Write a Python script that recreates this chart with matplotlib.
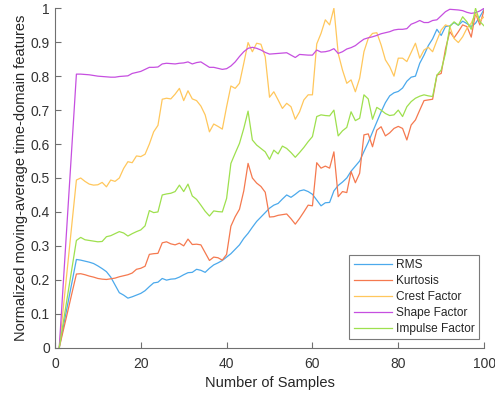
import matplotlib
matplotlib.use("Agg")
import matplotlib.pyplot as plt
import numpy as np

plt.rcParams['font.family'] = ['Liberation Sans', 'DejaVu Sans']

samples = np.arange(1, 101)

rms = [0.000, 0.065, 0.130, 0.195, 0.260, 0.258, 0.255, 0.252, 0.248, 0.241,
       0.233, 0.224, 0.208, 0.185, 0.162, 0.155, 0.146, 0.150, 0.155, 0.160,
       0.168, 0.180, 0.191, 0.193, 0.204, 0.199, 0.202, 0.203, 0.208, 0.215,
       0.221, 0.222, 0.231, 0.228, 0.222, 0.234, 0.244, 0.250, 0.257, 0.267,
       0.277, 0.290, 0.303, 0.322, 0.337, 0.355, 0.372, 0.385, 0.398, 0.411,
       0.420, 0.425, 0.438, 0.450, 0.443, 0.452, 0.462, 0.465, 0.460, 0.452,
       0.435, 0.418, 0.427, 0.428, 0.462, 0.478, 0.488, 0.500, 0.520, 0.535,
       0.550, 0.578, 0.605, 0.635, 0.665, 0.695, 0.722, 0.742, 0.751, 0.755,
       0.765, 0.785, 0.797, 0.800, 0.838, 0.862, 0.890, 0.910, 0.938, 0.920,
       0.946, 0.948, 0.958, 0.950, 0.962, 0.955, 0.946, 0.956, 0.975, 0.997]

kurtosis = [0.000, 0.054, 0.108, 0.163, 0.217, 0.218, 0.215, 0.211, 0.208, 0.204,
            0.202, 0.201, 0.203, 0.205, 0.209, 0.212, 0.215, 0.220, 0.231, 0.234,
            0.240, 0.275, 0.277, 0.278, 0.309, 0.312, 0.306, 0.303, 0.308, 0.300,
            0.320, 0.304, 0.305, 0.303, 0.280, 0.257, 0.267, 0.265, 0.258, 0.275,
            0.358, 0.386, 0.408, 0.462, 0.543, 0.500, 0.485, 0.475, 0.458, 0.385,
            0.386, 0.390, 0.392, 0.394, 0.380, 0.364, 0.381, 0.400, 0.420, 0.418,
            0.545, 0.529, 0.535, 0.529, 0.577, 0.445, 0.460, 0.457, 0.519, 0.486,
            0.514, 0.627, 0.630, 0.592, 0.641, 0.651, 0.624, 0.633, 0.646, 0.652,
            0.646, 0.612, 0.656, 0.671, 0.700, 0.728, 0.730, 0.732, 0.803, 0.808,
            0.880, 0.931, 0.913, 0.931, 0.951, 0.946, 0.915, 0.985, 0.951, 0.995]

crest_factor = [0.000, 0.124, 0.247, 0.371, 0.494, 0.500, 0.490, 0.482, 0.479, 0.480,
                0.487, 0.474, 0.494, 0.490, 0.500, 0.528, 0.548, 0.545, 0.565, 0.563,
                0.570, 0.600, 0.636, 0.655, 0.732, 0.735, 0.733, 0.747, 0.764, 0.728,
                0.757, 0.733, 0.728, 0.712, 0.686, 0.636, 0.659, 0.652, 0.644, 0.710,
                0.771, 0.764, 0.779, 0.838, 0.899, 0.872, 0.897, 0.894, 0.857, 0.738,
                0.754, 0.730, 0.705, 0.720, 0.710, 0.673, 0.695, 0.730, 0.745, 0.745,
                0.895, 0.926, 0.966, 0.951, 1.000, 0.867, 0.818, 0.779, 0.789, 0.754,
                0.794, 0.872, 0.911, 0.926, 0.928, 0.892, 0.848, 0.828, 0.800, 0.853,
                0.853, 0.843, 0.870, 0.897, 0.853, 0.877, 0.885, 0.872, 0.905, 0.936,
                0.951, 0.946, 0.911, 0.899, 0.916, 0.941, 0.956, 0.985, 0.963, 0.975]

shape_factor = [0.000, 0.2015, 0.403, 0.604, 0.806, 0.806, 0.805, 0.804, 0.802, 0.800,
                0.799, 0.798, 0.797, 0.797, 0.799, 0.800, 0.801, 0.808, 0.811, 0.814,
                0.820, 0.826, 0.826, 0.827, 0.836, 0.838, 0.837, 0.836, 0.838, 0.839,
                0.842, 0.836, 0.840, 0.842, 0.834, 0.826, 0.826, 0.823, 0.820, 0.822,
                0.830, 0.842, 0.858, 0.872, 0.882, 0.885, 0.882, 0.877, 0.870, 0.865,
                0.866, 0.867, 0.868, 0.869, 0.862, 0.855, 0.864, 0.863, 0.862, 0.862,
                0.877, 0.871, 0.872, 0.875, 0.881, 0.867, 0.872, 0.880, 0.884, 0.890,
                0.900, 0.909, 0.913, 0.916, 0.920, 0.925, 0.928, 0.931, 0.936, 0.938,
                0.938, 0.940, 0.953, 0.958, 0.964, 0.958, 0.958, 0.964, 0.966, 0.978,
                0.990, 0.997, 0.996, 0.995, 0.993, 0.988, 0.985, 0.987, 0.992, 1.000]

impulse_factor = [0.000, 0.079, 0.158, 0.237, 0.316, 0.325, 0.318, 0.316, 0.314, 0.312,
                  0.313, 0.327, 0.330, 0.336, 0.342, 0.338, 0.329, 0.336, 0.342, 0.347,
                  0.359, 0.404, 0.398, 0.400, 0.450, 0.453, 0.455, 0.460, 0.479, 0.460,
                  0.482, 0.447, 0.437, 0.420, 0.402, 0.388, 0.403, 0.401, 0.400, 0.440,
                  0.543, 0.573, 0.602, 0.646, 0.697, 0.612, 0.597, 0.587, 0.577, 0.555,
                  0.582, 0.571, 0.594, 0.587, 0.575, 0.561, 0.575, 0.590, 0.607, 0.622,
                  0.681, 0.686, 0.684, 0.683, 0.700, 0.624, 0.639, 0.649, 0.695, 0.669,
                  0.676, 0.745, 0.733, 0.673, 0.708, 0.700, 0.690, 0.684, 0.686, 0.700,
                  0.681, 0.710, 0.725, 0.735, 0.741, 0.745, 0.742, 0.740, 0.803, 0.818,
                  0.867, 0.946, 0.960, 0.950, 0.975, 0.960, 0.938, 1.000, 0.961, 0.948]

series_names = ['RMS', 'Kurtosis', 'Crest Factor', 'Shape Factor', 'Impulse Factor']
series_colors = ['#4BA9EC', '#F5794F', '#FFC75C', '#C64FE0', '#9EE04E']

fig = plt.figure(figsize=(4.95, 3.94), dpi=100)
ax = fig.add_axes([0.111, 0.1175, 0.867, 0.8615])

for vals, name, col in zip([rms, kurtosis, crest_factor, shape_factor, impulse_factor],
                           series_names, series_colors):
    ax.plot(samples, vals, color=col, linewidth=0.9, label=name)

ax.set_xlim(0, 100)
ax.set_ylim(0, 1)
ax.set_xticks(np.arange(0, 101, 20))
ax.set_yticks(np.arange(0, 1.01, 0.1))
ax.set_yticklabels(['0', '0.1', '0.2', '0.3', '0.4', '0.5', '0.6', '0.7', '0.8', '0.9', '1'])

axis_gray = '#707070'
for side in ['top', 'right']:
    ax.spines[side].set_visible(False)
for side in ['left', 'bottom']:
    ax.spines[side].set_color(axis_gray)
    ax.spines[side].set_linewidth(0.8)
ax.tick_params(direction='in', length=4, width=0.8, color=axis_gray,
               labelsize=10, labelcolor='#333333')
ax.tick_params(axis='x', pad=7)

ax.set_xlabel('Number of Samples', fontsize=10.5, color='#262626', labelpad=3)
ax.set_ylabel('Normalized moving-average time-domain features', fontsize=10.5,
              color='#262626', labelpad=2)

leg = ax.legend(loc='lower right', bbox_to_anchor=(0.988, 0.026), borderaxespad=0,
                fontsize=8.6, handlelength=3.2, handletextpad=0.35, labelspacing=0.32,
                borderpad=0.35, fancybox=False, framealpha=1)
leg.get_frame().set_edgecolor('#7a7a7a')
leg.get_frame().set_linewidth(0.8)
for t in leg.get_texts():
    t.set_color('#262626')

fig.savefig('out.png', dpi=100)
